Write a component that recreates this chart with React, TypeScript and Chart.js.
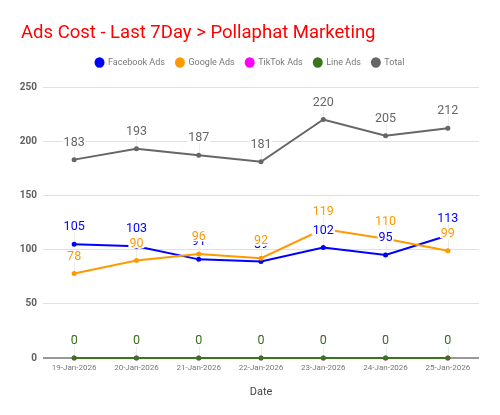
import React, { useEffect, useRef } from 'react';
import { Chart, registerables } from 'chart.js';

Chart.register(...registerables);

const categories = ['19-Jan-2026', '20-Jan-2026', '21-Jan-2026', '22-Jan-2026', '23-Jan-2026', '24-Jan-2026', '25-Jan-2026'];
const facebookAds = [105, 103, 91, 89, 102, 95, 113];
const googleAds = [78, 90, 96, 92, 119, 110, 99];
const tiktokAds = [0, 0, 0, 0, 0, 0, 0];
const lineAds = [0, 0, 0, 0, 0, 0, 0];
const totalAds = [183, 193, 187, 181, 220, 205, 212];
const seriesNames = ['Facebook Ads', 'Google Ads', 'TikTok Ads', 'Line Ads', 'Total'];
const seriesColors = ['#0000ff', '#ff9900', '#ff00ff', '#38761d', '#666666'];
const yMin = 0;
const yMax = 250;
const yStep = 50;

const LABEL_FONT = '12.5px Roboto';
const LABEL_OFFSET = 17;

const layoutTweakPlugin = {
  id: 'layoutTweak',
  afterLayout(chart: any) {
    if (chart.titleBlock) chart.titleBlock.left = 21;
    if (chart.legend) {
      chart.legend.left = 21;
      chart.legend.top = 47;
    }
  },
};

const pointLabelPlugin = {
  id: 'pointLabels',
  beforeDatasetsDraw(chart: any) {
    const ctx = chart.ctx;
    ctx.save();
    ctx.strokeStyle = '#ececec';
    ctx.lineWidth = 1;
    chart.data.datasets.forEach((ds: any, i: number) => {
      const meta = chart.getDatasetMeta(i);
      meta.data.forEach((pt: any) => {
        const x = Math.round(pt.x) + 0.5;
        ctx.beginPath();
        ctx.moveTo(x, pt.y);
        ctx.lineTo(x, pt.y - LABEL_OFFSET + 5);
        ctx.stroke();
      });
    });
    ctx.restore();
  },
  afterDatasetsDraw(chart: any) {
    const ctx = chart.ctx;
    ctx.save();
    ctx.font = LABEL_FONT;
    ctx.textAlign = 'center';
    ctx.textBaseline = 'middle';
    chart.data.datasets.forEach((ds: any, i: number) => {
      const meta = chart.getDatasetMeta(i);
      meta.data.forEach((pt: any, j: number) => {
        const txt = String(ds.data[j]);
        const w = ctx.measureText(txt).width;
        const ly = pt.y - LABEL_OFFSET;
        const h = 9;
        ctx.fillStyle = '#ffffff';
        ctx.fillRect(pt.x - w / 2 - 1, ly - h / 2, w + 2, h);
        ctx.fillStyle = ds.borderColor;
        ctx.fillText(txt, pt.x, ly);
      });
    });
    ctx.restore();
  },
};

export default function App() {
  const canvasRef = useRef<HTMLCanvasElement | null>(null);

  useEffect(() => {
    if (!canvasRef.current) return;
    Chart.defaults.font.family = 'Roboto';
    const seriesData = [facebookAds, googleAds, tiktokAds, lineAds, totalAds];
    const chart = new Chart(canvasRef.current, {
      type: 'line',
      data: {
        labels: categories,
        datasets: seriesData.map((d, i) => ({
          label: seriesNames[i],
          data: d,
          borderColor: seriesColors[i],
          backgroundColor: seriesColors[i],
          borderWidth: 2,
          pointRadius: 1.5,
          pointHoverRadius: 1.5,
          tension: 0,
          clip: false,
          order: 10 - i,
        })),
      },
      options: {
        animation: false,
        responsive: false,
        maintainAspectRatio: false,
        layout: { padding: { left: 0, right: 21, top: 0, bottom: 0 } },
        plugins: {
          title: {
            display: true,
            text: 'Ads Cost - Last 7Day > Pollaphat Marketing',
            color: '#ff0000',
            align: 'start',
            font: { size: 18.5, weight: 'normal', family: 'Roboto' },
            padding: { top: 22, bottom: 12.8 },
          },
          legend: {
            display: true,
            position: 'top',
            labels: {
              color: '#777777',
              font: { size: 9, family: 'Roboto' },
              usePointStyle: true,
              pointStyle: 'circle',
              boxHeight: 6,
              pointStyleWidth: 8,
              padding: 11,
              sort: (a: any, b: any) => a.datasetIndex - b.datasetIndex,
            },
          },
          tooltip: { enabled: false },
        },
        scales: {
          x: {
            offset: true,
            grid: { display: false, drawTicks: false },
            border: { display: false },
            ticks: { color: '#777777', font: { size: 8, family: 'Roboto' }, padding: 5, maxRotation: 0, autoSkip: false },
            title: { display: true, text: 'Date', color: '#444444', font: { size: 11, family: 'Roboto' }, padding: { top: 0, bottom: 16 } },
            afterFit: (s: any) => { s.height = 57; },
          },
          y: {
            min: yMin,
            max: yMax,
            ticks: { stepSize: yStep, color: '#5f5f5f', font: { size: 10, weight: 'bold', family: 'Roboto' }, padding: 6 },
            grid: {
              drawTicks: false,
              color: (c: any) => (c.tick && c.tick.value === 0 ? '#999999' : '#e0e0e0'),
              lineWidth: (c: any) => (c.tick && c.tick.value === 0 ? 2 : 1),
            },
            border: { display: false },
            afterFit: (s: any) => { s.width = 43; },
          },
        },
      },
      plugins: [layoutTweakPlugin, pointLabelPlugin],
    });
    return () => chart.destroy();
  }, []);

  return (
    <div style={{ position: 'absolute', left: 0, top: 0, width: 500, height: 415, background: '#fff' }}>
      <canvas ref={canvasRef} width={500} height={415} style={{ width: 500, height: 415 }} />
    </div>
  );
}
